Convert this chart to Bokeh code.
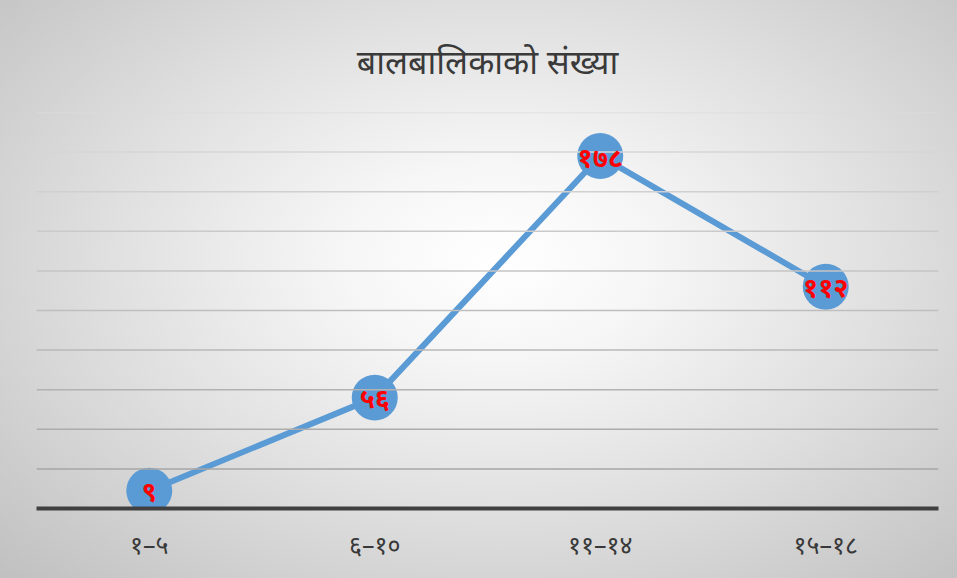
from bokeh.plotting import figure
from bokeh.models import ColumnDataSource, FactorRange, Range1d, Span, LabelSet
from bokeh.core.properties import value
from bokeh.embed import file_html
from bokeh.resources import INLINE

title_text = "बालबालिकाको संख्या"
categories = ["१–५", "६–१०", "११–१४", "१५–१८"]
values = [9, 56, 178, 112]
grid_values = [20, 40, 60, 80, 100, 120, 140, 160, 180, 200]

DEV = str.maketrans("0123456789", "०१२३४५६७८९")
value_labels = [str(v).translate(DEV) for v in values]

src = ColumnDataSource(dict(cat=categories, val=values, lab=value_labels))

W, H = 957, 578
p = figure(width=W, height=H, output_backend="svg", toolbar_location=None,
           x_range=FactorRange(*categories, range_padding=0),
           y_range=Range1d(0, 200),
           min_border_left=36, min_border_right=19, min_border_top=112, min_border_bottom=70)
p.styles = {"background": "radial-gradient(ellipse farthest-corner at 52% 45%, #ffffff 0%, #f6f6f6 22%, #e0e0e0 55%, #c0c0c0 100%)"}
p.background_fill_alpha = 0
p.border_fill_alpha = 0
p.outline_line_color = None

p.title.text = title_text
p.title.align = "center"
p.title.text_font_size = "34px"
p.title.text_font_style = "normal"
p.title.text_color = "#3a3a3a"
p.title.text_font = "Noto Sans"
p.title.text_line_height = 0.6
p.title.standoff = 58

p.xgrid.visible = False
p.ygrid.visible = False
p.yaxis.visible = False

n = len(grid_values)
for i, gv in enumerate(grid_values):
    t = i / (n - 1)
    c = int(0xa6 + (0xdc - 0xa6) * t)
    p.add_layout(Span(location=gv, dimension="width", line_color="#%02x%02x%02x" % (c, c, c), line_width=1.5))

xa = p.xaxis[0]
xa.axis_line_color = "#404040"
xa.axis_line_width = 4
xa.major_tick_line_color = None
xa.minor_tick_line_color = None
xa.major_label_text_font_size = "25px"
xa.major_label_text_color = "#383838"
xa.major_label_text_font = "Noto Sans"
xa.major_label_standoff = 12

p.line("cat", "val", source=src, line_color="#5b9bd5", line_width=6)
p.scatter("cat", "val", source=src, size=46, fill_color="#5b9bd5", line_color=None)
p.add_layout(LabelSet(x="cat", y="val", text="lab", source=src, text_align="center",
                      text_baseline="middle", text_color="#ff0000", text_font_size="27px",
                      text_font_style="bold", text_font=value("Noto Sans")))

open("out.html", "w").write(file_html(p, INLINE))
